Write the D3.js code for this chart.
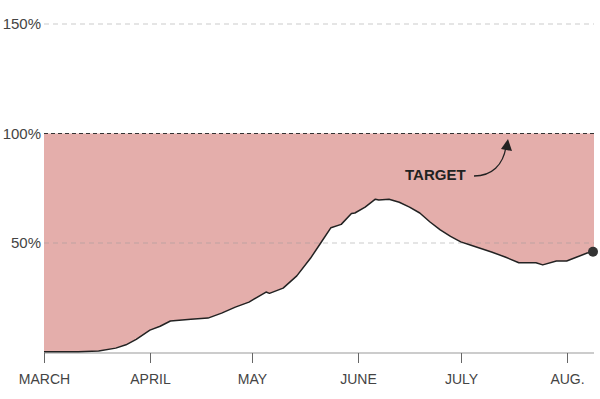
<!DOCTYPE html>
<html><head><meta charset="utf-8">
<script src="https://cdn.jsdelivr.net/npm/d3@7"></script>
<style>body{margin:0;background:#fff}svg{display:block}</style>
</head><body><svg id="c" width="600" height="399"></svg>
<script>
const dates = ["2020-03-01","2020-03-11","2020-03-17","2020-03-22","2020-03-25","2020-03-28","2020-04-01","2020-04-04","2020-04-07","2020-04-13","2020-04-16","2020-04-18","2020-04-22","2020-04-26","2020-04-30","2020-05-05","2020-05-06","2020-05-10","2020-05-14","2020-05-18","2020-05-21","2020-05-24","2020-05-27","2020-05-30","2020-05-31","2020-06-03","2020-06-06","2020-06-07","2020-06-10","2020-06-13","2020-06-16","2020-06-19","2020-06-22","2020-06-25","2020-06-28","2020-07-01","2020-07-04","2020-07-10","2020-07-14","2020-07-18","2020-07-23","2020-07-25","2020-07-29","2020-08-01","2020-08-04","2020-08-07","2020-08-09"];
const values = [0.3,0.3,0.7,2,3.5,6,10.2,12,14.4,15.2,15.5,15.7,18,20.7,23,27.6,27,29.4,35,43,50,57,58.5,63.5,63.7,66.4,70,69.6,70,68.6,66.4,63.7,59.6,56,53,50.5,49,45.9,43.6,41,41,40,41.8,41.8,43.6,45.4,46];
const yTicks = [50,100,150];
const yTickLabels = ["50%","100%","150%"];
const monthTicks = ["2020-03-01","2020-04-01","2020-05-01","2020-06-01","2020-07-01","2020-08-01"];
const monthLabels = ["MARCH","APRIL","MAY","JUNE","JULY","AUG."];
const target = 100;

const parse = d3.timeParse("%Y-%m-%d");
const data = dates.map((d,i)=>({date:parse(d), v:values[i]}));
const svg = d3.select("#c");
const x = d3.scaleTime().domain([parse("2020-03-01"), parse("2020-08-09")]).range([44,594]);
const y = d3.scaleLinear().domain([0,150]).range([352.5,24]);
const font = "'Liberation Sans', Arial, sans-serif";

// fill between line and target
const area = d3.area().x(d=>x(d.date)).y0(y(target)).y1(d=>y(d.v));
svg.append("path").datum(data).attr("d",area).attr("fill","#e4aeab");

// gridlines
yTicks.forEach((t,i)=>{
  if(t===target) return;
  svg.append("line").attr("x1",44).attr("x2",594).attr("y1",y(t)).attr("y2",y(t))
    .attr("stroke","#999").attr("stroke-opacity",0.5).attr("stroke-dasharray","5,4").attr("stroke-width",1);
});
svg.append("line").attr("x1",44).attr("x2",594).attr("y1",y(target)).attr("y2",y(target))
  .attr("stroke","#333").attr("stroke-dasharray","4,3").attr("stroke-width",1.2);

yTicks.forEach((t,i)=>{
  svg.append("text").attr("x",41).attr("y",y(t)+5).attr("text-anchor","end")
    .attr("font-family",font).attr("font-size",15).attr("fill","#444").text(yTickLabels[i]);
});

// x axis
svg.append("line").attr("x1",44).attr("x2",594).attr("y1",353).attr("y2",353).attr("stroke","#999").attr("stroke-width",1);
monthTicks.forEach((m,i)=>{
  const xx = Math.round(x(parse(m)))+0.5;
  svg.append("line").attr("x1",xx).attr("x2",xx).attr("y1",353).attr("y2",363).attr("stroke","#666").attr("stroke-width",1);
  svg.append("text").attr("x",xx).attr("y",384).attr("text-anchor","middle")
    .attr("font-family",font).attr("font-size",14).attr("fill","#444").text(monthLabels[i]);
});

// line
const line = d3.line().x(d=>x(d.date)).y(d=>y(d.v));
svg.append("path").datum(data).attr("d",line).attr("fill","none").attr("stroke","#222").attr("stroke-width",1.5).attr("stroke-linejoin","round");

// end dot
const last = data[data.length-1];
svg.append("circle").attr("cx",x(last.date)-1).attr("cy",y(last.v)).attr("r",5).attr("fill","#333");

// target annotation
svg.append("text").attr("x",405).attr("y",180).attr("font-family",font).attr("font-weight","bold")
  .attr("font-size",15).attr("fill","#222").text("TARGET");
svg.append("path").attr("d","M474,176 C492,176 503,165 506,147").attr("fill","none").attr("stroke","#222").attr("stroke-width",1.3);
svg.append("path").attr("d","M501,149 L508,139 L512,151 Z").attr("fill","#222");
</script></body></html>
